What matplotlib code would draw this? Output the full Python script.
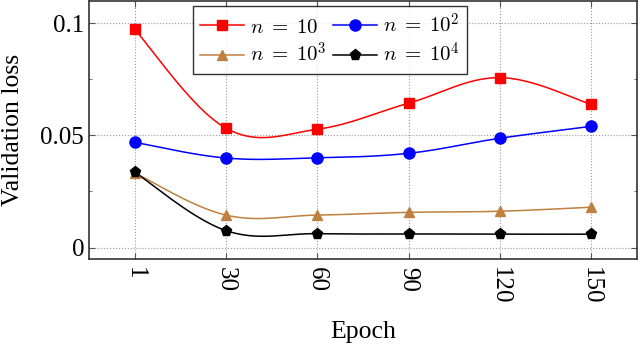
import numpy as np
import matplotlib.pyplot as plt

plt.rcParams['font.family'] = ['Liberation Serif', 'DejaVu Serif']
plt.rcParams['mathtext.fontset'] = 'cm'

# data
epochs = ['1', '30', '60', '90', '120', '150']
loss_n1 = [0.0972, 0.0532, 0.0527, 0.0643, 0.0757, 0.0638]
loss_n2 = [0.0469, 0.0399, 0.0400, 0.0420, 0.0487, 0.0540]
loss_n3 = [0.0333, 0.0145, 0.0145, 0.0157, 0.0162, 0.0180]
loss_n4 = [0.0336, 0.0076, 0.0062, 0.0061, 0.0060, 0.0060]


def smooth(x, y, k=0.18, steps=30):
    # tikz-like smooth curve (cubic bezier through the points)
    x = np.asarray(x, float)
    y = np.asarray(y, float)
    n = len(x)
    xs, ys = [], []
    for i in range(n - 1):
        i0 = max(i - 1, 0)
        i3 = min(i + 2, n - 1)
        c1x = x[i] + k * (x[i + 1] - x[i0])
        c1y = y[i] + k * (y[i + 1] - y[i0])
        c2x = x[i + 1] - k * (x[i3] - x[i])
        c2y = y[i + 1] - k * (y[i3] - y[i])
        t = np.linspace(0, 1, steps)
        b0 = (1 - t) ** 3
        b1 = 3 * (1 - t) ** 2 * t
        b2 = 3 * (1 - t) * t ** 2
        b3 = t ** 3
        xs.append(b0 * x[i] + b1 * c1x + b2 * c2x + b3 * x[i + 1])
        ys.append(b0 * y[i] + b1 * c1y + b2 * c2y + b3 * y[i + 1])
    return np.concatenate(xs), np.concatenate(ys)


fig = plt.figure(figsize=(6.4, 3.47), dpi=100)
ax = fig.add_axes([0.139, 0.254, 0.856, 0.743])

pos = np.arange(len(epochs))
series = [
    (loss_n1, '#ff0000', 's', 7, r'$n\;=\;10$'),
    (loss_n2, '#0000ff', 'o', 8, r'$n\;=\;10^2$'),
    (loss_n3, '#bf8040', '^', 7.5, r'$n\;=\;10^3$'),
    (loss_n4, '#000000', 'p', 8, r'$n\;=\;10^4$'),
]
handles = []
for vals, col, mk, ms, lab in series:
    sx, sy = smooth(pos, vals)
    ax.plot(sx, sy, color=col, lw=1.1, zorder=3)
    ax.plot(pos, vals, ls='none', marker=mk, ms=ms, color=col, zorder=4)
    h, = ax.plot([], [], color=col, lw=1.1, marker=mk, ms=ms, label=lab)
    handles.append(h)

ax.set_xlim(-0.5, 5.5)
ax.set_ylim(-0.005, 0.1098)
ax.set_xticks(pos)
ax.set_xticklabels(epochs, rotation=-90, fontsize=18)
ax.set_yticks([0, 0.05, 0.1])
ax.set_yticklabels(['0', '0.05', '0.1'], fontsize=18)
ax.set_yticks([0.025, 0.075], minor=True)
ax.tick_params(which='both', direction='in', top=True, right=True, color='#555555')
ax.tick_params(which='major', length=4)
ax.tick_params(axis='x', which='major', pad=6)
ax.tick_params(which='minor', length=2.5)
ax.grid(True, which='major', ls=':', color='#999999', lw=0.8)
for s in ax.spines.values():
    s.set_linewidth(1.2)
    s.set_color('#333333')

ax.set_xlabel('Epoch', fontsize=18.5, labelpad=12)
ax.set_ylabel('Validation loss', fontsize=18.5, labelpad=12)

leg = ax.legend(handles=[handles[0], handles[2], handles[1], handles[3]], ncol=2,
                loc='upper center', bbox_to_anchor=(0.44, 0.98), fontsize=15,
                frameon=True, fancybox=False, edgecolor='black', handlelength=2.1,
                handletextpad=0.3, columnspacing=0.3, borderpad=0.35, labelspacing=0.25,
                borderaxespad=0)
leg.get_frame().set_linewidth(1.0)

fig.savefig('out.png', dpi=100)
